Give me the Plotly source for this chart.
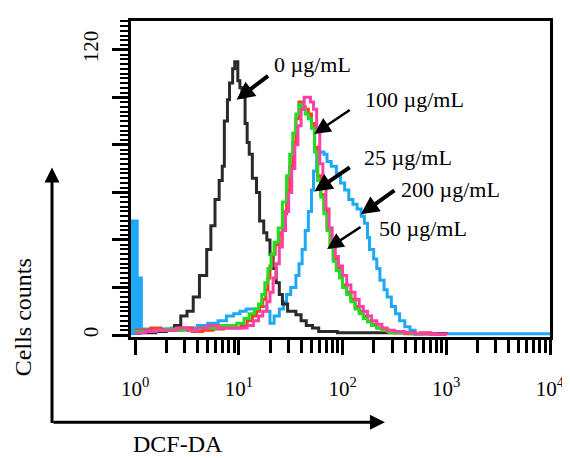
import plotly.graph_objects as go

# ---- data (x in decades: log10 of DCF-DA fluorescence, y in cell counts) ----
ctrl_x = [0.00, 0.10, 0.20, 0.30, 0.38, 0.44, 0.50, 0.56, 0.62, 0.69, 0.73, 0.77, 0.81, 0.84, 0.86,
          0.89, 0.91, 0.94, 0.96, 0.99, 1.01, 1.03, 1.06, 1.08, 1.10, 1.13, 1.17, 1.20, 1.24, 1.27,
          1.30, 1.33, 1.36, 1.39, 1.42, 1.47, 1.55, 1.60, 1.65, 1.71, 1.77, 1.85, 1.95, 2.10, 2.30,
          2.50, 2.70, 2.90, 3.00]
ctrl_y = [1, 1, 1.5, 2, 4, 8, 10, 16, 25, 36, 46, 57, 65, 71, 90,
          99, 106, 112, 115, 107, 104, 100, 89, 81, 76, 66, 60, 48, 43, 40,
          34, 28, 22, 17, 13, 10, 8.5, 6, 4, 3, 1.5, 1.5, 1, 1, 1,
          1, 0.5, 0.5, 0]

c25_x = [0.00, 0.08, 0.15, 0.25, 0.35, 0.45, 0.55, 0.65, 0.75, 0.85, 0.95, 1.02, 1.08, 1.13, 1.17,
         1.20, 1.23, 1.26, 1.28, 1.30, 1.32, 1.35, 1.39, 1.42, 1.46, 1.49, 1.52, 1.55, 1.58, 1.61,
         1.64, 1.67, 1.70, 1.73, 1.76, 1.79, 1.82, 1.85, 1.88, 1.91, 1.94, 1.97, 2.00, 2.04, 2.08,
         2.12, 2.16, 2.20, 2.24, 2.28, 2.33, 2.38, 2.43, 2.50, 2.60, 2.75, 2.85, 3.00]
c25_y = [2, 2, 3, 2, 2, 3, 1.5, 2, 2.5, 3, 3, 4, 6, 8, 10,
         12, 15, 19, 24, 29, 34, 38, 43, 51, 61, 71, 81, 91, 98, 96,
         95, 93, 89, 79, 67, 59, 53, 45, 37, 32, 28, 25, 21, 18, 15,
         12, 10, 8, 6, 4.5, 3, 2, 1.5, 1, 0.5, 1, 0.3, 0]

c50_x = [0.00, 0.10, 0.20, 0.30, 0.40, 0.50, 0.60, 0.70, 0.80, 0.90, 0.98, 1.05, 1.10, 1.15, 1.19,
         1.22, 1.25, 1.28, 1.31, 1.34, 1.38, 1.42, 1.46, 1.49, 1.52, 1.55, 1.58, 1.61, 1.64, 1.67,
         1.70, 1.73, 1.76, 1.79, 1.82, 1.85, 1.88, 1.91, 1.94, 1.97, 2.00, 2.04, 2.08, 2.12, 2.16,
         2.20, 2.24, 2.28, 2.33, 2.38, 2.45, 2.55, 2.65, 2.80]
c50_y = [1.5, 1.5, 2, 2.5, 2, 2, 3, 3, 4, 4, 5, 7, 9, 11, 13,
         17, 22, 28, 34, 39, 45, 56, 67, 76, 85, 93, 97, 95, 93, 91,
         87, 77, 65, 58, 51, 44, 37, 31, 27, 24, 20, 17, 14, 11, 9,
         7, 5.5, 4, 3, 2, 1, 1, 0.5, 0]

c100_x = [0.00, 0.10, 0.20, 0.30, 0.40, 0.50, 0.60, 0.70, 0.80, 0.90, 1.00, 1.08, 1.14, 1.19, 1.23,
          1.27, 1.30, 1.33, 1.36, 1.39, 1.42, 1.45, 1.48, 1.51, 1.54, 1.57, 1.60, 1.63, 1.66, 1.69,
          1.72, 1.75, 1.78, 1.81, 1.84, 1.87, 1.90, 1.93, 1.96, 2.00, 2.04, 2.08, 2.12, 2.16, 2.20,
          2.24, 2.28, 2.33, 2.38, 2.43, 2.50, 2.60, 2.70, 2.90, 3.00]
c100_y = [1, 1.5, 2, 2, 3, 2, 3, 4, 3, 3, 3, 4, 6, 8, 10,
          14, 18, 24, 30, 37, 44, 52, 60, 70, 80, 88, 95, 100, 100, 98,
          95, 87, 72, 62, 53, 45, 39, 33, 29, 25, 21, 18, 15, 12, 10,
          8, 6, 4.5, 3, 2, 1.5, 1, 0.5, 0.3, 0]

c200_x = [-0.04, 0.02, 0.06, 0.20, 0.35, 0.50, 0.60, 0.70, 0.80, 0.88, 0.95, 1.01, 1.07, 1.13, 1.20,
          1.27, 1.30, 1.34, 1.39, 1.43, 1.46, 1.50, 1.55, 1.58, 1.61, 1.64, 1.67, 1.70, 1.72, 1.75,
          1.78, 1.82, 1.85, 1.89, 1.94, 1.98, 2.02, 2.06, 2.10, 2.14, 2.18, 2.21, 2.24, 2.26, 2.30,
          2.33, 2.36, 2.40, 2.43, 2.47, 2.51, 2.55, 2.60, 2.65, 2.70, 4.00]
c200_y = [48, 24, 2.5, 2.5, 3, 3, 4, 5, 6, 8, 9, 10, 11, 11, 12,
          10, 5, 8, 11, 14, 17, 20, 25, 30, 36, 44, 52, 61, 69, 76,
          77, 76, 73, 71, 68, 64, 61, 57, 55, 53, 50, 47, 41, 36, 32,
          28, 23, 19, 16, 12, 9, 6, 3.5, 2, 0.5, 0]

series_names = ["0 µg/mL", "25 µg/mL", "50 µg/mL", "100 µg/mL", "200 µg/mL"]

x_tick_vals = [1, 10, 100, 1000, 10000]
x_tick_text = ["10<sup>0</sup>", "10<sup>1</sup>", "10<sup>2</sup>", "10<sup>3</sup>", "10<sup>4</sup>"]
x_minor_vals = [m * 10 ** k for k in range(4) for m in range(2, 10)]
y_tick_vals = [0, 20, 40, 60, 80, 100, 120]
y_tick_text = ["0", "", "", "", "", "", "120"]

# ---- styling ----
SERIF = "Liberation Serif, Times New Roman, serif"
col = {"0 µg/mL": "#2a2a2a", "25 µg/mL": "#ff3b2a", "50 µg/mL": "#1ee01e",
       "100 µg/mL": "#ff3fa6", "200 µg/mL": "#1fa8f5"}

def lin(xs):
    return [10 ** v for v in xs]

fig = go.Figure()
# filled spike of the 200 µg/mL histogram at the first channels
fig.add_trace(go.Scatter(x=lin(c200_x[:3]), y=c200_y[:3], mode="lines", line=dict(shape="hv", width=0),
                         fill="tozeroy", fillcolor=col["200 µg/mL"], hoverinfo="skip", showlegend=False))
data = [(c200_x, c200_y, "200 µg/mL"), (ctrl_x, ctrl_y, "0 µg/mL"), (c25_x, c25_y, "25 µg/mL"),
        (c50_x, c50_y, "50 µg/mL"), (c100_x, c100_y, "100 µg/mL")]
for xs, ys, nm in data:
    fig.add_trace(go.Scatter(x=lin(xs), y=ys, mode="lines", name=nm,
                             line=dict(shape="hv", width=3, color=col[nm]), showlegend=False))

# annotations: label text + arrow to curve
labels = [
    # name, text paper-x, text paper-y, tip log-x, tip count, ax, ay, arrow width
    ("0 µg/mL", 0.3365, 0.862, 0.978, 99, 33, -25, 4),
    ("100 µg/mL", 0.5537, 0.752, 1.727, 84.6, 37, -25, 2.5),
    ("25 µg/mL", 0.5513, 0.567, 1.727, 60.4, 37, -25, 4),
    ("200 µg/mL", 0.6396, 0.467, 2.177, 50.8, 35, -25, 4),
    ("50 µg/mL", 0.587, 0.342, 1.851, 36.2, 35, -23, 2.5),
]
anns = []
for nm, tx, ty, ax_, ay_, dx, dy, w in labels:
    anns.append(dict(xref="paper", yref="paper", x=tx, y=ty, text=nm, showarrow=False,
                     xanchor="left", yanchor="middle", font=dict(family=SERIF, size=22, color="black")))
    anns.append(dict(xref="x", yref="y", x=ax_, y=ay_, text="", showarrow=True, ax=dx, ay=dy,
                     arrowhead=2, arrowsize=0.9 if w > 3 else 1.3, arrowwidth=w, arrowcolor="black",
                     standoff=0))

# outer axis arrows
anns.append(dict(xref="paper", yref="paper", x=-0.1885, y=0.536, ax=0, ay=257, text="", showarrow=True,
                 arrowhead=2, arrowsize=1, arrowwidth=3, arrowcolor="black", standoff=0))
anns.append(dict(xref="paper", yref="paper", x=0.606, y=-0.2696, ax=-333, ay=0, text="", showarrow=True,
                 arrowhead=2, arrowsize=1, arrowwidth=3, arrowcolor="black", standoff=0))
anns.append(dict(xref="paper", yref="paper", x=-0.2578, y=0.0627, text="Cells counts", textangle=-90,
                 showarrow=False, xanchor="center", yanchor="middle",
                 font=dict(family=SERIF, size=24, color="black")))
anns.append(dict(xref="paper", yref="paper", x=0.1122, y=-0.3386, text="DCF-DA",
                 showarrow=False, xanchor="center", yanchor="middle",
                 font=dict(family=SERIF, size=24, color="black")))

fig.update_layout(
    width=570, height=458,
    margin=dict(l=123, r=28, t=10, b=129),
    paper_bgcolor="white", plot_bgcolor="white",
    annotations=anns,
    showlegend=False,
    xaxis=dict(type="log", range=[-0.04, 4.0], showgrid=False, zeroline=False,
               showline=True, mirror=True, linecolor="black", linewidth=3,
               tickmode="array", tickvals=x_tick_vals, ticktext=x_tick_text,
               ticks="outside", ticklen=15, tickwidth=3, tickcolor="black",
               ticklabelstandoff=16,
               tickfont=dict(family=SERIF, size=21, color="black"),
               minor=dict(tickmode="array", tickvals=x_minor_vals, ticks="outside",
                          ticklen=13, tickwidth=3, tickcolor="black", showgrid=False)),
    yaxis=dict(range=[-0.83, 132.1], showgrid=False, zeroline=False,
               showline=True, mirror=True, linecolor="black", linewidth=3,
               tickmode="array", tickvals=y_tick_vals, ticktext=y_tick_text,
               ticks="outside", ticklen=16, tickwidth=3, tickcolor="black",
               tickangle=-90, ticklabelstandoff=6,
               tickfont=dict(family=SERIF, size=21, color="black"),
               minor=dict(dtick=2, ticks="outside", ticklen=8, tickwidth=2,
                          tickcolor="black", showgrid=False)),
)

fig.write_html("out.html")
